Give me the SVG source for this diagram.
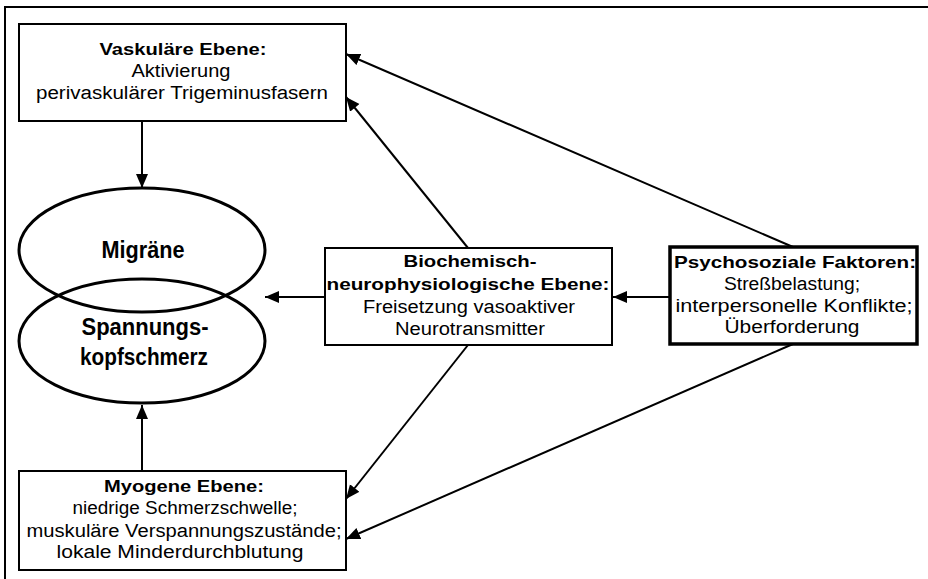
<svg xmlns="http://www.w3.org/2000/svg" width="928" height="579" viewBox="0 0 928 579">
<style>
.box{fill:#fff;stroke:#000;stroke-width:2}
.thick{fill:#fff;stroke:#000;stroke-width:3.5}
.ell{fill:none;stroke:#000;stroke-width:3}
.t{font-family:"Liberation Sans",Arial,sans-serif;font-size:18px;fill:#000;text-anchor:middle}
.b{font-weight:bold;font-size:17px}
.e{font-family:"Liberation Sans",Arial,sans-serif;font-size:23px;font-weight:bold;fill:#000;text-anchor:middle}
.c{stroke:#000;stroke-width:2;fill:none;marker-end:url(#ah)}
</style>
<defs>
<marker id="ah" markerUnits="userSpaceOnUse" markerWidth="16" markerHeight="14" refX="14" refY="6" orient="auto">
<path d="M0,0 L14,6 L0,12 z" fill="#000"/>
</marker>
</defs>
<rect width="928" height="579" fill="#fff"/>
<path d="M5,579 V7 H928" fill="none" stroke="#000" stroke-width="2"/>
<g id="connectors">
<line class="c" x1="142" y1="121" x2="142" y2="188"/>
<line class="c" x1="142" y1="471" x2="142" y2="405"/>
<line class="c" x1="670" y1="297" x2="613" y2="297"/>
<line class="c" x1="325" y1="297" x2="265" y2="297"/>
<line class="c" x1="468" y1="248" x2="346" y2="97"/>
<line class="c" x1="793" y1="247" x2="346" y2="54"/>
<line class="c" x1="468" y1="345" x2="346" y2="499"/>
<line class="c" x1="793" y1="344" x2="346" y2="539"/>
</g>
<g id="vaskulaer">
<rect class="box" x="19" y="24" width="327" height="97"/>
<text class="t b" x="183" y="55" textLength="167" lengthAdjust="spacingAndGlyphs">Vaskuläre Ebene:</text>
<text class="t" x="181" y="77" textLength="99" lengthAdjust="spacingAndGlyphs">Aktivierung</text>
<text class="t" x="182" y="99" textLength="292" lengthAdjust="spacingAndGlyphs">perivaskulärer Trigeminusfasern</text>
</g>
<g id="migraene">
<ellipse class="ell" cx="142" cy="250" rx="123" ry="62"/>
<text class="e" x="143" y="258" textLength="83" lengthAdjust="spacingAndGlyphs">Migräne</text>
</g>
<g id="spannung">
<ellipse class="ell" cx="142" cy="341" rx="123" ry="62"/>
<text class="e" x="145" y="335" textLength="127" lengthAdjust="spacingAndGlyphs">Spannungs-</text>
<text class="e" x="144" y="365" textLength="128" lengthAdjust="spacingAndGlyphs">kopfschmerz</text>
</g>
<g id="biochemisch">
<rect class="box" x="325" y="248" width="287" height="97"/>
<text class="t b" x="470" y="267" textLength="133" lengthAdjust="spacingAndGlyphs">Biochemisch-</text>
<text class="t b" x="468" y="290" textLength="283" lengthAdjust="spacingAndGlyphs">neurophysiologische Ebene:</text>
<text class="t" x="469" y="313" textLength="212" lengthAdjust="spacingAndGlyphs">Freisetzung vasoaktiver</text>
<text class="t" x="470" y="335" textLength="150" lengthAdjust="spacingAndGlyphs">Neurotransmitter</text>
</g>
<g id="psychosozial">
<rect class="thick" x="670" y="247" width="247" height="97"/>
<text class="t b" x="795" y="268" textLength="242" lengthAdjust="spacingAndGlyphs">Psychosoziale Faktoren:</text>
<text class="t" x="792" y="290" textLength="136" lengthAdjust="spacingAndGlyphs">Streßbelastung;</text>
<text class="t" x="794" y="312" textLength="237" lengthAdjust="spacingAndGlyphs">interpersonelle Konflikte;</text>
<text class="t" x="792" y="333" textLength="135" lengthAdjust="spacingAndGlyphs">Überforderung</text>
</g>
<g id="myogen">
<rect class="box" x="19" y="471" width="327" height="99"/>
<text class="t b" x="184" y="492" textLength="160" lengthAdjust="spacingAndGlyphs">Myogene Ebene:</text>
<text class="t" x="185" y="514" textLength="225" lengthAdjust="spacingAndGlyphs">niedrige Schmerzschwelle;</text>
<text class="t" x="184" y="537" textLength="315" lengthAdjust="spacingAndGlyphs">muskuläre Verspannungszustände;</text>
<text class="t" x="180" y="558" textLength="247" lengthAdjust="spacingAndGlyphs">lokale Minderdurchblutung</text>
</g>
</svg>
